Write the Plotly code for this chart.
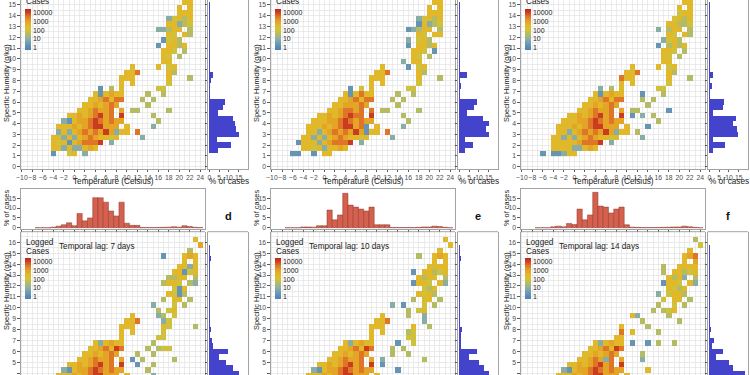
import plotly.graph_objects as go

# ---------------- data ----------------
TEMPS = list(range(-7, 25))  # temperature bin centres (Celsius), 32 columns

TOP_ROWS_V = [15.5, 15.0, 14.5, 14.0, 13.5, 13.0, 12.5, 12.0, 11.5, 11.0, 10.5, 10.0, 9.5, 9.0,
              8.5, 8.0, 7.5, 7.0, 6.5, 6.0, 5.5, 5.0, 4.5, 4.0, 3.5, 3.0, 2.5, 2.0, 1.5, 1.0]
BOT_ROWS_V = [16.5, 16.0, 15.5, 15.0, 14.5, 14.0, 13.5, 13.0, 12.5, 12.0, 11.5, 11.0, 10.5, 10.0,
              9.5, 9.0, 8.5, 8.0, 7.5, 7.0, 6.5, 6.0, 5.5, 5.0, 4.5, 4.0, 3.5]

# log10(cases) level codes
LEVEL_VALUE = {"1": 0.3, "2": 0.9, "3": 1.5, "4": 1.9, "5": 2.4, "6": 2.9, "7": 3.5, "8": 4.0}

# rows: T -7..-1 | 0..9 | 10..19 | 20..24
PANEL_A = [
    "....... .......... .......... .55..",
    "....... .......... .......... .55..",
    "....... .......... .......... 5.5..",
    "....... .......... .......... 555..",
    "....... .......... ........24 535..",
    "....... .......... ........55 234..",
    "....... .......... ......2235 5.3..",
    "....... .......... ........54 .53..",
    "....... .......... .......145 3....",
    "....... .......... ......1.55 35...",
    "....... .......... .......554 .3...",
    "....... .......... .......54. 3....",
    "....... .......... .......55. .....",
    "....... .......... .5....5.45 .....",
    "....... .......... 557.....53 .....",
    "....... .........5 55......5. ..3..",
    "....... .........5 .5......4. .....",
    "....... .....1.3.5 ......44.. .....",
    "....... ....515655 ....3..3.. .....",
    "....... ...5567577 ...3.3.... .....",
    "....... ..5565676. ....3..... .....",
    "....... .5567667.6 .33.....3. .....",
    "......5 56567867.8 .....3.... .....",
    ".....21 5667876766 ......3... .....",
    "....555 656788666. 5....2.... .....",
    "....252 5676768625 5.7....... .....",
    "...5525 256765545. ...2...... .....",
    "...5451 567778.2.. .......... .....",
    "...5525 22565..... .......... .....",
    "...1..4 5.2....... .......... .....",
]
PANEL_B = [
    "....... .......... .......... .55..",
    "....... .......... .......... .55..",
    "....... .......... .......... 5.5..",
    "....... .......... .......... 555..",
    "....... .......... ........24 535..",
    "....... .......... ........15 234..",
    "....... .......... ......1235 5.3..",
    "....... .......... ........54 .55..",
    "....... .......... ......2.45 3....",
    "....... .......... ......1.55 35...",
    "....... .......... .......554 .1...",
    "....... .......... .......54. 3....",
    "....... .......... .....2.55. .....",
    "....... .......... .5....1.45 .....",
    "....... .......... 557.....53 .....",
    "....... .........5 55......5. ..3..",
    "....... .........5 .5......4. .....",
    "....... .....1.4.5 ......44.. .....",
    "....... ....515755 ....3..3.. .....",
    "....... ...5567577 ...3.3.... .....",
    "....... ..5566676. ....3..... .....",
    "....... .5567767.7 .33.....3. .....",
    "......5 56567877.8 .....3.... .....",
    ".....55 5667876766 ......3... .....",
    "....555 656788671. 5....2.... .....",
    "....552 5676768615 5.7....... .....",
    "...5525 256765545. ...2...... .....",
    "..15552 567778.2.. .......... .....",
    "...5545 25565..... .......... .....",
    ".11..1. 55........ .......... .....",
]
PANEL_C = [
    "....... .......... .......... .55..",
    "....... .......... .......... .55..",
    "....... .......... .......... 5.5..",
    "....... .......... .......... 455..",
    "....... .......... .........4 535..",
    "....... .......... ........55 334..",
    "....... .......... ......2.35 5.3..",
    "....... .......... ........54 .53..",
    "....... .......... .......245 3....",
    "....... .......... ......1.35 35...",
    "....... .......... .......554 .3...",
    "....... .......... .......54. 3....",
    "....... .......... .......55. .....",
    "....... .......... .5....5.45 .....",
    "....... .......... 557.....53 .....",
    "....... .........7 55......5. ..3..",
    "....... .........5 .5......4. .....",
    "....... .....2.3.5 ......44.. .....",
    "....... ....515655 ...1...3.. .....",
    "....... ...5567577 ...3.3.... .....",
    "....... ..5565676. ....3..... .....",
    "....... .5567667.6 .33.....1. .....",
    "......5 56567867.8 .1.2.3.... .....",
    ".....55 5667876766 ......3... .....",
    "....555 656788666. 5...1..... .....",
    "....552 5676768625 5.3....... .....",
    "...5525 256765545. ...2...... .....",
    "...5555 567778.2.. .......... .....",
    "...5555 22565..... .......... .....",
    ".1.1125 5......... .......... .....",
]
PANEL_D = [
    "....... .......... .......... .....",
    "....... .......... .......... ...5.",
    "....... .......... .......... ....6",
    "....... .......... .......... ..3..",
    "....... .......... .......1.. .565.",
    "....... .......... .......... .5.5.",
    "....... .......... .......... 5525.",
    "....... .......... .........5 5145.",
    "....... .......... ........33 55.3.",
    "....... .......... .......355 4.32.",
    "....... .......... .........4 15...",
    "....... .......... ........54 13...",
    "....... .......... .......3.5 5.3..",
    "....... .......... .....2...4 .3...",
    "....... .......... ......3.45 .....",
    "....... .......... .5....23.4 .....",
    "....... .......... 557....24. .....",
    "....... .........5 55.....54. ...3.",
    "....... .........5 .5.....4.. .....",
    "....... .........5 ......44.. .....",
    "....... ....525655 .....3.... .....",
    "....... ...5567587 ....3.344. .....",
    "....... ..5565676. ..3..3.... .....",
    "....... .5567667.6 .1.3.....3 .....",
    "......5 56567867.8 ..1..3.... .....",
    ".....21 5667876766 ....3..... .....",
    "....555 656788666. 5....2.... .....",
]
PANEL_E = [
    "....... .......... .......... .....",
    "....... .......... .......... ...5.",
    "....... .......... .......... ....5",
    "....... .......... .......... ..5..",
    "....... .......... ........3. .565.",
    "....... .......... .......... .5.5.",
    "....... .......... .......... 5555.",
    "....... .......... .......1.5 5345.",
    "....... .......... ........53 55.3.",
    "....... .......... .......155 4.52.",
    "....... .......... .........4 35...",
    "....... .......... ........54 53...",
    "....... .......... .......3.5 5.3..",
    "....... .......... ...2.1...4 .3...",
    "....... .......... ......3.45 .....",
    "....... .......... .5....3..2 .....",
    "....... .......... 557......2 .....",
    "....... .........5 55.....5.. 3....",
    "....... .........5 .5....34.. .....",
    "....... .........5 ......44.. .....",
    "....... ....525655 ....1..4.. .....",
    "....... ...5567587 ...3.3.... .....",
    "....... ..5565676. ...3..3... .....",
    "....... .5567667.6 .2.......3 .....",
    "......5 56567867.8 .1........ .....",
    ".....21 5667876766 ....1..... .....",
    "....555 656788666. 5......... .....",
]
PANEL_F = [
    "....... .......... .......... .....",
    "....... .......... .......... ...3.",
    "....... .......... .......... ....4",
    "....... .......... .......... ..5..",
    "....... .......... .......... .567.",
    "....... .......... .......... .5.6.",
    "....... .......... .......3.. 5555.",
    "....... .......... .......3.5 5345.",
    "....... .......... ........53 52.3.",
    "....... .......... .......155 4.52.",
    "....... .......... ........54 35...",
    "....... .......... ......2.45 53...",
    "....... .......... .......4.5 5.3..",
    "....... .......... ......3..4 .3...",
    "....... .......... .....3.345 .....",
    "....... .......... .52.....3. .....",
    "....... .......... ...3...... 3....",
    "....... .........5 ....3..... .....",
    "....... .........7 .5....3... .....",
    "....... ........55 .......... .....",
    "....... ....525655 .1..1.3..3 .....",
    "....... ...5567587 .......... .....",
    "....... ..5565676. ...3...... .....",
    "....... .5567627.6 ...2...... .....",
    "......5 56567867.8 .......... .....",
    ".....21 5667876766 ....5..... .....",
    "....555 656788666. 5......... .....",
]

# marginal humidity histograms (% of cases), bins of 0.5 g/kg
SIDE_BINS_TOP = [1.0, 1.5, 2.0, 2.5, 3.0, 3.5, 4.0, 4.5, 5.0, 5.5, 6.0, 6.5, 7.0, 7.5, 8.0,
                 8.5, 9.0, 9.5, 10.0, 10.5, 11.0, 11.5, 12.0, 12.5, 13.0, 13.5, 14.0, 14.5, 15.0, 15.5]
SIDE_A = [0, 4.5, 11.0, 4.0, 15.3, 13.7, 13.0, 12.2, 4.6, 7.0, 8.0, 0.2, 0.2, 0.4, 0.8,
          2.0, 0.2, 0.2, 0.3, 0.2, 0.3, 0.2, 0.3, 0.3, 0.3, 0.2, 0.3, 0.3, 0.2, 0.1]
SIDE_B = [0, 3.0, 6.8, 2.9, 15.2, 13.8, 15.2, 12.2, 3.8, 7.5, 8.9, 0.2, 0.2, 1.0, 0.5,
          3.8, 0.2, 0.2, 0.6, 0.2, 0.2, 0.2, 0.3, 0.2, 0.2, 0.2, 0.2, 0.2, 0.2, 0.1]
SIDE_C = [0, 2.0, 8.0, 2.0, 14.7, 14.2, 12.2, 13.5, 2.1, 6.8, 7.5, 0.4, 0.3, 1.5, 0.5,
          1.8, 0.2, 0.2, 0.2, 0.2, 0.2, 0.2, 0.2, 0.2, 0.2, 0.2, 0.2, 0.2, 0.2, 0.1]
SIDE_BINS_BOT = [3.5, 4.0, 4.5, 5.0, 5.5, 6.0, 6.5, 7.0, 7.5, 8.0, 8.5, 9.0, 9.5, 10.0,
                 10.5, 11.0, 11.5, 12.0, 12.5, 13.0, 13.5, 14.0, 14.5, 15.0, 15.5, 16.0, 16.5]
SIDE_D = [15.0, 15.3, 12.2, 8.5, 5.0, 9.7, 2.0, 1.5, 0.5, 1.0, 0.4, 0.2, 0.2, 0.2,
          0.2, 0.2, 0.2, 0.2, 0.2, 0.2, 0.2, 0.2, 0.8, 0.2, 0.2, 0.1, 0.0]
SIDE_E = [14.0, 15.0, 12.5, 10.0, 5.0, 9.0, 1.0, 1.0, 0.8, 1.3, 0.3, 0.2, 0.2, 0.2,
          0.2, 0.2, 0.2, 0.2, 0.2, 0.2, 0.2, 0.2, 0.8, 0.2, 0.2, 0.1, 0.0]
SIDE_F = [16.0, 18.0, 12.0, 10.0, 3.5, 7.0, 1.5, 2.5, 0.5, 1.0, 0.3, 0.2, 0.2, 0.2,
          0.2, 0.2, 0.2, 0.2, 0.2, 0.2, 0.2, 0.2, 0.6, 0.2, 0.2, 0.1, 0.0]

# marginal temperature histograms (% of cases), T -7..24
HIST_D = [0, 0, 0, 0.3, 0.8, 1.5, 2.5, 1.0, 7.2, 3.5, 5.0, 15.3, 15.2, 13.0, 8.5, 6.0, 13.0,
          2.3, 1.2, 1.2, 0.1, 0.1, 0.1, 0.1, 0.2, 0.3, 0.5, 0.3, 1.0, 0.6, 0.2, 0.1]
HIST_E = [0, 0, 0, 0.4, 0.4, 0.3, 1.0, 1.0, 9.0, 4.0, 6.5, 17.5, 11.5, 10.5, 9.5, 8.5, 10.5,
          1.5, 1.5, 1.5, 0.1, 0.1, 0.1, 0.1, 0.1, 0.2, 0.4, 0.4, 0.8, 0.6, 0.2, 0.0]
HIST_F = [0, 0, 0, 0.5, 0.8, 0.5, 2.2, 1.6, 9.5, 4.0, 6.5, 18.0, 11.0, 10.5, 7.5, 9.5, 10.5,
          1.5, 0.3, 0.2, 0.1, 0.1, 0.1, 0.1, 0.2, 0.3, 0.4, 0.4, 0.8, 0.5, 0.2, 0.0]

LAGS = ["7", "10", "14"]
PANEL_LETTERS = ["d", "e", "f"]
CB_TICKVALS = [0, 1, 2, 3, 4]
CB_TICKTEXT = ["1", "10", "100", "1000", "10000"]

# ---------------- style ----------------
W, H = 750, 375
FONT = "Liberation Sans, Arial, sans-serif"
TICK_FONT = dict(family=FONT, size=6.8, color="#4d4d4d")
XTITLE_FONT = dict(family=FONT, size=8.2, color="#1a1a1a")
YTITLE_FONT = dict(family=FONT, size=7.4, color="#1a1a1a")
LEG_FONT = dict(family=FONT, size=8.2, color="#1a1a1a")
GRID = "#e2e2e2"
BORDER = "#8c8c8c"
XR = [-10.23, 24.9]
TOP_YR = [-0.21, 15.46]
BOT_YR = [3.84, 16.97]
HIST_R = [-0.9, 19.7]
COLORSCALE = [
    [0.0, "#4c82b6"], [0.064, "#5589ba"], [0.279, "#8eb1a5"], [0.41, "#bdbd55"],
    [0.494, "#d6c232"], [0.601, "#e2b628"], [0.708, "#e49f26"], [0.815, "#de7527"],
    [0.923, "#cb3b20"], [1.0, "#bf281b"],
]


def dx(a, b):
    return [a / W, b / W]


def dy(top, bottom):
    return [max(0.0, 1 - bottom / H), min(1.0, 1 - top / H)]


def py(p):
    return 1 - p / H


def zgrid(rows):
    out = []
    for s in rows:
        s = s.replace(" ", "").ljust(len(TEMPS), ".")[:len(TEMPS)]
        out.append([LEVEL_VALUE.get(ch) for ch in s])
    return out


def xn(n):
    return "xaxis" if n == 1 else f"xaxis{n}"


def yn(n):
    return "yaxis" if n == 1 else f"yaxis{n}"


def xr(n):
    return "x" if n == 1 else f"x{n}"


def yr(n):
    return "y" if n == 1 else f"y{n}"


fig = go.Figure()
layout = {}
shapes = []
annotations = []
counter = [0]


def nxt():
    counter[0] += 1
    return counter[0]


heat_axis_common = dict(
    ticks="outside", ticklen=2.5, tickwidth=0.8, tickcolor="#333333", tickfont=TICK_FONT,
    showgrid=True, gridcolor=GRID, gridwidth=0.7, zeroline=False, tickangle=0,
)


def add_heat(rows, vrows, ca, n):
    z = zgrid(rows)
    pairs = sorted(zip(vrows, z), key=lambda p: p[0])
    fig.add_trace(go.Heatmap(
        x=TEMPS, y=[p[0] + 0.25 for p in pairs], z=[p[1] for p in pairs],
        coloraxis=ca, xaxis=xr(n), yaxis=yr(n), hoverongaps=False,
    ))


def colorbar(ox, top):
    return dict(x=(ox + 25) / W, xanchor="left", xpad=0, y=py(top), yanchor="top", ypad=0,
                lenmode="pixels", len=41, thicknessmode="pixels", thickness=5.5,
                outlinewidth=0, ticks="", tickvals=CB_TICKVALS, ticktext=CB_TICKTEXT,
                tickfont=dict(family=FONT, size=7, color="#1a1a1a"))


top_panels = [PANEL_A, PANEL_B, PANEL_C]
bot_panels = [PANEL_D, PANEL_E, PANEL_F]
top_sides = [SIDE_A, SIDE_B, SIDE_C]
bot_sides = [SIDE_D, SIDE_E, SIDE_F]
bot_hists = [HIST_D, HIST_E, HIST_F]

ca_index = 0
for k in range(3):
    ox = 250 * k
    # ---------- top row ----------
    ca_index += 1
    ca = "coloraxis" if ca_index == 1 else f"coloraxis{ca_index}"
    n = nxt()
    add_heat(top_panels[k], TOP_ROWS_V, ca, n)
    layout[xn(n)] = dict(domain=dx(ox + 20.7, ox + 205), range=XR, anchor=yr(n),
                         tickmode="linear", tick0=0, dtick=2,
                         minor=dict(tickmode="linear", tick0=0, dtick=1, showgrid=True,
                                    gridcolor=GRID, gridwidth=0.7),
                         showline=True, linecolor=BORDER, linewidth=0.8, mirror=True,
                         **heat_axis_common)
    layout[yn(n)] = dict(domain=dy(0, 169), range=TOP_YR, anchor=xr(n),
                         tickmode="linear", tick0=0, dtick=1,
                         minor=dict(tickmode="linear", tick0=0, dtick=0.5, showgrid=True,
                                    gridcolor=GRID, gridwidth=0.7),
                         showline=True, linecolor=BORDER, linewidth=0.8, mirror=True,
                         **heat_axis_common)
    layout[ca] = dict(colorscale=COLORSCALE, cmin=-0.3, cmax=4.36, colorbar=colorbar(ox, 9.3))
    m = nxt()
    fig.add_trace(go.Bar(y=SIDE_BINS_TOP, x=top_sides[k], orientation="h", width=0.5,
                         marker=dict(color="#4343cc", line=dict(width=0)),
                         xaxis=xr(m), yaxis=yr(m)))
    layout[xn(m)] = dict(domain=dx(ox + 207.5, ox + 248), range=HIST_R, anchor=yr(m),
                         tickvals=[0, 5, 10, 15], ticks="outside", ticklen=2.5, tickwidth=0.8,
                         tickcolor="#333333", tickfont=TICK_FONT, tickangle=0, showgrid=False,
                         zeroline=False, showline=True, linecolor=BORDER, linewidth=0.8,
                         mirror=True)
    layout[yn(m)] = dict(domain=dy(0, 169), range=TOP_YR, anchor=xr(m), tickmode="linear",
                         tick0=0, dtick=1, ticks="outside", ticklen=2, tickwidth=0.8,
                         tickcolor="#333333", showticklabels=False, showgrid=False,
                         zeroline=False, showline=True, linecolor=BORDER, linewidth=0.8,
                         mirror=True)
    annotations += [
        dict(text="Temperature (Celsius)", x=(ox + 113) / W, y=py(181), xref="paper",
             yref="paper", showarrow=False, font=XTITLE_FONT, xanchor="center", yanchor="middle"),
        dict(text="% of cases", x=(ox + 229) / W, y=py(181), xref="paper", yref="paper",
             showarrow=False, font=XTITLE_FONT, xanchor="center", yanchor="middle"),
        dict(text="Specific Humidity (g/kg)", x=(ox + 6) / W, y=py(83), xref="paper",
             yref="paper", showarrow=False, font=YTITLE_FONT, textangle=-90,
             xanchor="center", yanchor="middle"),
        dict(text="Cases", x=(ox + 24) / W, y=py(1.5), xref="paper", yref="paper",
             showarrow=False, font=LEG_FONT, xanchor="left", yanchor="middle"),
    ]

    # ---------- bottom row ----------
    t = nxt()
    fig.add_trace(go.Bar(x=TEMPS, y=bot_hists[k], width=1,
                         marker=dict(color="#d5604e", line=dict(color="#8a3a2e", width=0.5)),
                         xaxis=xr(t), yaxis=yr(t)))
    layout[xn(t)] = dict(domain=dx(ox + 20.7, ox + 205), range=XR, anchor=yr(t),
                         tickmode="linear", tick0=0, dtick=2, ticks="outside", ticklen=2,
                         tickwidth=0.8, tickcolor="#333333", showticklabels=False,
                         showgrid=False, zeroline=False, showline=True, linecolor=BORDER,
                         linewidth=0.8, mirror=True)
    layout[yn(t)] = dict(domain=dy(189, 229.3), range=[-0.8, 19.7], anchor=xr(t),
                         tickvals=[0, 5, 10, 15], ticks="outside", ticklen=2.5, tickwidth=0.8,
                         tickcolor="#333333", tickfont=TICK_FONT, showgrid=False,
                         zeroline=False, showline=True, linecolor=BORDER, linewidth=0.8,
                         mirror=True)

    ca_index += 1
    ca = f"coloraxis{ca_index}"
    n = nxt()
    add_heat(bot_panels[k], BOT_ROWS_V, ca, n)
    layout[xn(n)] = dict(domain=dx(ox + 20.7, ox + 205), range=XR, anchor=yr(n),
                         tickmode="linear", tick0=0, dtick=2, showticklabels=False,
                         minor=dict(tickmode="linear", tick0=0, dtick=1, showgrid=True,
                                    gridcolor=GRID, gridwidth=0.7),
                         showline=False, **heat_axis_common)
    layout[yn(n)] = dict(domain=dy(231.7, 375), range=BOT_YR, anchor=xr(n),
                         tickmode="linear", tick0=0, dtick=1,
                         minor=dict(tickmode="linear", tick0=0, dtick=0.5, showgrid=True,
                                    gridcolor=GRID, gridwidth=0.7),
                         showline=True, linecolor=BORDER, linewidth=0.8, mirror=True,
                         **heat_axis_common)
    layout[ca] = dict(colorscale=COLORSCALE, cmin=-0.3, cmax=4.36, colorbar=colorbar(ox, 258.3))
    shapes.append(dict(type="line", xref="paper", yref="paper", x0=(ox + 20.7) / W,
                       x1=(ox + 205) / W, y0=py(231.7), y1=py(231.7),
                       line=dict(color=BORDER, width=0.8)))

    m = nxt()
    fig.add_trace(go.Bar(y=SIDE_BINS_BOT, x=bot_sides[k], orientation="h", width=0.5,
                         marker=dict(color="#4343cc", line=dict(width=0)),
                         xaxis=xr(m), yaxis=yr(m)))
    layout[xn(m)] = dict(domain=dx(ox + 207.5, ox + 248), range=HIST_R, anchor=yr(m),
                         showticklabels=False, showgrid=False, zeroline=False, showline=False)
    layout[yn(m)] = dict(domain=dy(231.7, 375), range=BOT_YR, anchor=xr(m), tickmode="linear",
                         tick0=0, dtick=1, ticks="outside", ticklen=2, tickwidth=0.8,
                         tickcolor="#333333", showticklabels=False, showgrid=False,
                         zeroline=False, showline=True, linecolor=BORDER, linewidth=0.8,
                         mirror=True)
    shapes.append(dict(type="line", xref="paper", yref="paper", x0=(ox + 207.5) / W,
                       x1=(ox + 248) / W, y0=py(231.7), y1=py(231.7),
                       line=dict(color=BORDER, width=0.8)))

    annotations += [
        dict(text="% of cases", x=(ox + 6) / W, y=py(208), xref="paper", yref="paper",
             showarrow=False, font=YTITLE_FONT, textangle=-90, xanchor="center",
             yanchor="middle"),
        dict(text="Specific Humidity (g/kg)", x=(ox + 6) / W, y=py(291), xref="paper",
             yref="paper", showarrow=False, font=YTITLE_FONT, textangle=-90,
             xanchor="center", yanchor="middle"),
        dict(text="Logged", x=(ox + 24) / W, y=py(242), xref="paper", yref="paper",
             showarrow=False, font=LEG_FONT, xanchor="left", yanchor="middle"),
        dict(text="Cases", x=(ox + 24) / W, y=py(251), xref="paper", yref="paper",
             showarrow=False, font=LEG_FONT, xanchor="left", yanchor="middle"),
        dict(text=f"Temporal lag: {LAGS[k]} days", x=(ox + 57) / W, y=py(246.5),
             xref="paper", yref="paper", showarrow=False, font=LEG_FONT, xanchor="left",
             yanchor="middle"),
        dict(text=f"<b>{PANEL_LETTERS[k]}</b>", x=(ox + 228) / W, y=py(216), xref="paper",
             yref="paper", showarrow=False, font=dict(family=FONT, size=11, color="#111111"),
             xanchor="center", yanchor="middle"),
    ]

for key, ax in layout.items():
    if key.startswith("xaxis") or key.startswith("yaxis"):
        ax["automargin"] = False

fig.update_layout(
    width=W, height=H, margin=dict(l=0, r=0, t=0, b=0, pad=0),
    paper_bgcolor="white", plot_bgcolor="white", showlegend=False,
    shapes=shapes, annotations=annotations, bargap=0, **layout,
)
fig.write_html(
    "out.html",
    config={"displayModeBar": False, "staticPlot": True},
    post_script="document.body.style.margin='0px';document.body.style.overflow='hidden';",
)
